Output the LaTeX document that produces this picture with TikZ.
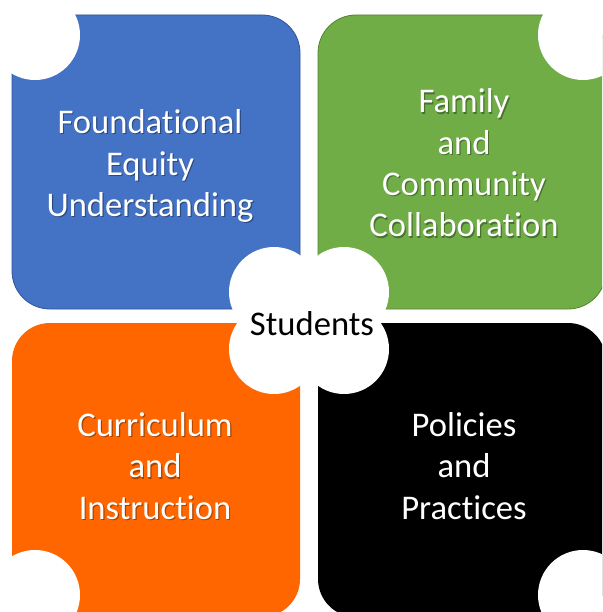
\documentclass[tikz,border=0pt]{standalone}
\usepackage{fontspec}
\setmainfont{Carlito}[RawFeature={-liga;-clig;-dlig}]
\definecolor{blueq}{HTML}{4472C4}
\definecolor{blueo}{HTML}{2F5597}
\definecolor{greenq}{HTML}{70AD47}
\definecolor{greeno}{HTML}{548235}
\definecolor{orangeq}{HTML}{FF6600}
\tikzset{
  quad/.style={rectangle, rounded corners=38pt, minimum width=288pt, minimum height=294pt, inner sep=0pt, line width=0.8pt},
  cutout/.style={fill=white},
  lbl/.style={text=white, align=center, inner sep=0pt, font=\fontsize{34.6}{41.3}\selectfont},
  shd/.style={text=black, text opacity=0.35, align=center, inner sep=0pt, font=\fontsize{34.6}{41.3}\selectfont},
  ctr/.style={text=black, align=center, inner sep=0pt, font=\fontsize{34.6}{41.3}\selectfont}
}
\begin{document}
\begin{tikzpicture}[x=1pt,y=-1pt]
\useasboundingbox (0,0) rectangle (602,612);
\clip (0,0) rectangle (602,612);
% quadrants
\node[quad, fill=blueq, draw=blueo] (qb) at (156,162) {};
\node[quad, fill=greenq, draw=greeno] (qg) at (462,162) {};
\node[quad, fill=orangeq] (qo) at (156,470) {};
\node[quad, fill=black] (qk) at (462,470) {};
% outer corner cut-outs
\fill[cutout] (35,35) circle[radius=45pt];
\fill[cutout] (583,35) circle[radius=45pt];
\fill[cutout] (35,595) circle[radius=45pt];
\fill[cutout] (583,595) circle[radius=45pt];
% centre lobes
\fill[cutout] (274,292) circle[radius=45pt];
\fill[cutout] (344,292) circle[radius=45pt];
\fill[cutout] (274,349) circle[radius=45pt];
\fill[cutout] (344,349) circle[radius=45pt];
% shadows
\node[shd] (sb) at (151.2,167.2) {Foundational\\Equity\\Understanding};
\node[shd] (sg) at (465.2,164.2) {Family\\and\\Community\\Collaboration};
\node[shd] (so) at (156.2,467.2) {Curriculum\\and\\Instruction};
\node[shd] (sk) at (465.2,467.2) {Policies\\and\\Practices};
% labels
\node[lbl] (tb) at (150,166) {Foundational\\Equity\\Understanding};
\node[lbl] (tg) at (464,163) {Family\\and\\Community\\Collaboration};
\node[lbl] (to) at (155,466) {Curriculum\\and\\Instruction};
\node[lbl] (tk) at (464,466) {Policies\\and\\Practices};
\node[ctr] (st) at (312,324) {Students};
\end{tikzpicture}
\end{document}
